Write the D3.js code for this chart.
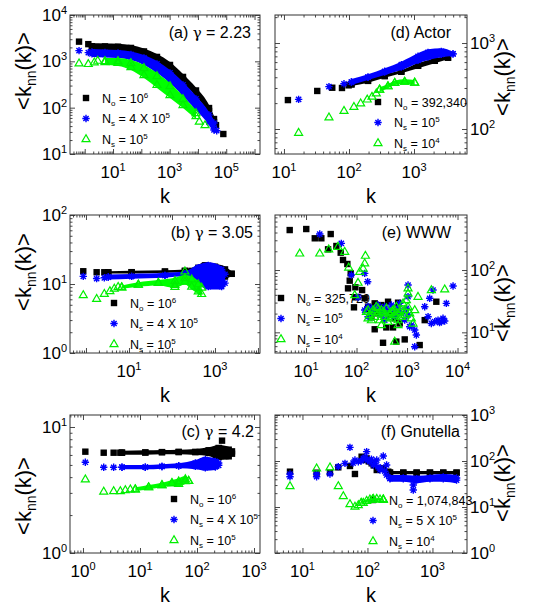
<!DOCTYPE html>
<html><head><meta charset="utf-8">
<script src="https://cdn.jsdelivr.net/npm/d3@7"></script>
<style>body{margin:0;background:#fff}svg{display:block}text{font-family:Arial,"Liberation Sans",sans-serif;fill:#000}</style>
</head><body><svg id="c" width="534" height="608"></svg>
<script>
// ---------------- DATA (k, <knn>) ----------------
// (a) gamma = 2.23
const aBlackPts=[[0.63,2660],[1.34,2350],[43500,42],[78900,27]];
const aBlackBand=[[1.8,1575,2460],[5.2,1557,2440],[15,1535,2400],[43,1445,2260],[124,1215,1900],[358,923,1445],[1030,621,970],[2970,341,535],[8550,175,273],[24700,73,114],[37000,42,66]];
const aBluePts=[[0.63,1700],[1.34,1540],[35000,38.9],[46100,31.8]];
const aBlueBand=[[1.8,1245,1850],[5.2,1215,1810],[15,1183,1763],[43,1071,1636],[124,836,1374],[358,561,1020],[1030,341,652],[2970,179,359],[8550,89,179],[24700,42,81],[37000,28.4,54]];
const aGreenPts=[[0.63,910],[1.34,880],[2.18,955],[2.88,1035],[11200,50],[17800,42]];
const aGreenBand=[[5.2,836,1183],[15,796,1183],[43,652,1071],[124,438,836],[358,267,561],[1030,162,341],[2970,98.6,179],[8550,57,89]];
// (b) gamma = 3.05
const bBlackPts=[[0.865,15.3],[1.77,14.8],[2.67,14.8]];
const bBlackBand=[[3.3,14.2,15.3],[11.5,14.2,15.5],[68.7,14.5,15.8],[200,14.8,16.2],[287,14,17],[409,11,19],[585,9.3,20.6],[1000,9.84,19.7],[1710,11.6,18.0],[2440,12.9,15.3]];
const bBluePts=[[0.865,12.9],[1.77,12.0],[2.67,12.3]];
const bBlueBand=[[3.3,11.6,13.7],[11.5,11.9,14.0],[68.7,12.3,14.5],[200,12.9,15.3],[409,9.84,19.1],[700,8.3,20.6],[1430,8.3,18.0],[1710,9.3,15.3]];
const bGreenPts=[[0.865,6.9],[1.77,6.1],[2.67,7.2],[3.6,7.9],[4.55,8.6],[5.6,9.1],[200,15.3],[117,9.1]];
const bGreenBand=[[6.8,8.5,9.5],[16.5,9.1,10.6],[48.1,9.5,11.4],[117,8.8,12.3],[200,9.84,13.5],[287,8.3,12.9],[409,7.1,11.0],[490,6.5,9.84]];
// (c) gamma = 4.2
const cBlackPts=[[1.1,6.37],[2.31,6.25],[3.45,6.25],[4.52,6.25],[275,7.79]];
const cBlackBand=[[4.83,6.03,6.49],[12.4,6.03,6.53],[24.3,6.07,6.57],[47.7,6.07,6.61],[93.5,5.99,6.69],[160,5.89,6.90],[240,5.47,7.20],[360,5.54,6.98],[411,5.81,6.77]];
const cBluePts=[[1.1,5.25],[2.31,4.79],[3.45,4.79]];
const cBlueBand=[[4.83,4.61,4.99],[12.4,4.61,4.99],[24.3,4.67,5.06],[47.7,4.70,5.15],[93.5,4.61,5.47],[140,4.50,5.81],[210,4.56,5.64],[240,4.70,5.47]];
const cGreenPts=[[1.1,3.85],[2.31,3.07],[3.45,3.10],[4.52,3.10],[5.53,3.16],[6.77,3.20]];
const cGreenBand=[[8.28,3.10,3.32],[14.2,3.20,3.47],[24.3,3.32,3.61],[36.4,3.40,3.80],[47.7,3.36,3.92],[62.4,3.53,4.08],[71.4,3.57,3.92]];
// (d) Actor
const dBlackPts=[[11.5,217],[32.5,277],[55.3,302],[78,300],[98.8,322]];
const dBlackBand=[[109,316,346],[196,346,381],[354,395,432],[638,444,485],[1153,508,581],[2080,581,664],[3334,646,706]];
const dBluePts=[[16.8,221],[49.2,311],[83.8,336]];
const dBlueBand=[[109,325,381],[196,371,432],[354,425,508],[638,485,607],[1153,581,759],[1641,634,844],[2630,681,867],[3980,706,792]];
const dGreenPts=[[16.8,90.6],[49.2,137],[83.8,163],[119,181],[151,199],[191,221],[226,238],[263,260]];
const dGreenBand=[[296,272,306],[398,297,334],[505,325,365],[719,334,378],[1024,325,371]];
// (e) WWW
const eBlackPts=[[4.75,438],[10.1,455],[14.9,323],[20.1,323],[30.8,378],[27.3,215],[39.9,243],[48.6,190],[54,145],[65.8,125],[76.7,88.5],[73.3,67.5],[67.9,50.8],[94.8,52.8],[129,47.7],[94.8,36.5],[89,25.2],[145,35.2],[169,25.8],[229,29.2],[310,27.4],[421,31],[664,29.9],[197,17.4],[229,11.2],[389,12.0],[528,12.0],[716,13.9],[614,7.1],[335,6.8],[900,7.7],[1780,6.25],[3800,31],[2240,15.7],[182,22.8],[267,20.2],[454,19],[570,16.8]];
const eBluePts=[[18.7,378],[50,268],[78.9,83.2],[166,65],[145,88.5],[107,36.5],[197,24.3],[310,22.8],[570,21.4],[1047,57.4],[1047,37.3],[968,24.3],[1217,13.1],[1420,10.9],[1530,9.06],[1420,5.88],[2240,25.8],[2810,35.2],[3270,47.7],[2610,17.8],[3530,14.8],[4770,14.8],[4110,15.7],[5160,16.8],[6010,29.2],[8150,55.4],[145,22.8],[169,25.8],[197,20.2],[229,24.3],[267,27.4],[310,19.0],[361,25.8],[421,22.8],[490,27.4],[570,17.8],[664,24.3],[773,20.2],[900,15.7],[1047,19.0],[1130,12.3],[169,17.8],[361,15.7],[716,29.2],[3030,13.9],[4400,14.3],[5570,15.2]];
const eGreenPts=[[7.5,185],[18.7,185],[28.1,215],[43,237],[58.3,197],[70,110],[116,94],[150,170],[145,128],[135,106],[107,62.7],[92,39.7],[169,22.8],[570,7.1],[1047,50.8],[1047,42.3],[1650,37.3],[1420,22.8],[3030,47.7],[5570,49],[157,21.4],[182,19.0],[212,22.8],[229,17.8],[267,20.2],[288,15.7],[335,21.4],[361,17.8],[390,24.3],[421,14.8],[454,20.2],[490,16.8],[528,22.8],[570,19.0],[615,25.8],[664,15.7],[716,21.4],[773,17.8],[834,29.2],[900,22.8],[971,33],[1047,25.8],[1130,20.2],[1217,16.8],[1315,13.9],[310,13.1],[197,15.7],[247,25.8],[169,16.8],[664,13.1],[229,21.4],[310,22.8],[421,17.8],[570,22.8],[773,22.8],[900,19.0],[361,20.2],[490,21.4],[267,24.3],[664,20.2]];
// (f) Gnutella
const fBlackPts=[[6.43,58.6],[16.5,55.7],[26.5,55.7],[35.6,72.8],[53.8,77.9],[64.2,52.2],[81.3,124],[97.2,114],[116,89],[139,63.7],[175,69.3],[209,58.6],[88,105],[105,98],[125,80]];
const fBlackBand=[[222,51.4,60.6],[356,51.4,60.6],[571,51.4,60.6],[916,51.4,60.6],[1466,51.4,60.6],[2350,51.4,60.6]];
const fBluePts=[[6.43,45.6],[6.43,52],[16.5,45.6],[16.5,52],[26.5,52.2],[35.6,75.3],[45.1,89],[53.8,198],[64.2,105],[72.3,96.6],[86.3,114],[97.2,160],[109,96.6],[123,81.9],[139,105],[156,63.7],[175,128],[197,49.6],[197,81.9],[507,23.4],[507,30],[60,90],[80,100],[92,120],[100,105],[115,110],[130,90],[145,75],[160,70],[185,60]];
const fBlueBand=[[222,35.5,49.6],[356,35.5,49.6],[571,33,48],[916,35.5,49.6],[1466,35.5,52],[2350,33,49.6]];
const fGreenPts=[[6.43,28.6],[16.5,69.3],[26.5,72.8],[35.6,28.6],[42.5,17.3],[53.8,11.6],[64.2,10.2],[72.3,11.0],[86.3,12.4],[97.2,13.7],[109,14.7],[123,15.2],[139,15.2],[156,14.7],[175,14.7]];
const fGreenBand=[[80,11.6,13.2],[120,13.6,15.4],[175,13.6,15.4]];
// legends: [subscript, base text, superscript]
const legA=[["o","10","6"],["s","4 X 10","5"],["s","10","5"]];
const legB=[["o","10","6"],["s","4 X 10","5"],["s","10","5"]];
const legC=[["o","10","6"],["s","4 X 10","5"],["s","10","5"]];
const legD=[["o","392,340",""],["s","10","5"],["s","10","4"]];
const legE=[["o","325,729",""],["s","10","5"],["s","10","4"]];
const legF=[["o","1,074,843",""],["s","5 X 10","5"],["s","10","4"]];
// titles: [prefix, greek (or ""), suffix]
const titles=[["(a) ","γ"," = 2.23"],["(b) ","γ"," = 3.05"],["(c) ","γ"," = 4.2"],["(d) Actor","",""],["(e) WWW","",""],["(f) Gnutella","",""]];
// axis tick label exponents
const xTickExp=[[1,3,5],[1,3],[0,1,2,3],[1,2,3],[1,2,3,4],[1,2,3]];
const yTickExp=[[1,2,3,4],[0,1,2],[0,1],[2,3],[1,2],[0,1,2,3]];

// ---------------- LAYOUT ----------------
const panels=[
 {x0:70,x1:260,y0:15,y1:154,xd:[0.302,1.56e6],yd:[10,1e4],side:"left",yc:71,tx:251,ty:38,lx:86,ly:98,
  s:[[aBlackPts,aBlackBand],[aBluePts,aBlueBand],[aGreenPts,aGreenBand]],leg:legA},
 {x0:70,x1:260,y0:215,y1:353,xd:[0.425,11150],yd:[1,100],side:"left",yc:272,tx:253,ty:238,lx:114,ly:303,
  s:[[bBlackPts,bBlackBand],[bBluePts,bBlueBand],[bGreenPts,bGreenBand]],leg:legB},
 {x0:70,x1:260,y0:415,y1:553,xd:[0.592,1274],yd:[1,12.45],side:"left",yc:496,tx:254,ty:437,lx:174,ly:499,
  s:[[cBlackPts,cBlackBand],[cBluePts,cBlueBand],[cGreenPts,cGreenBand]],leg:legC},
 {x0:275,x1:467,y0:15,y1:154,xd:[7.28,6530],yd:[51.2,2118],side:"right",yc:77,tx:451,ty:38,lx:378,ly:102,
  s:[[dBlackPts,dBlackBand],[dBluePts,dBlueBand],[dGreenPts,dGreenBand]],leg:legD},
 {x0:275,x1:467,y0:215,y1:353,xd:[2.43,15400],yd:[4.66,764],side:"right",yc:303,tx:451,ty:238,lx:281,ly:298,
  s:[[eBlackPts,[]],[eBluePts,[]],[eGreenPts,[]]],leg:legE},
 {x0:275,x1:467,y0:415,y1:553,xd:[3.78,3400],yd:[1,1000],side:"right",yc:483,tx:460,ty:437,lx:373,ly:500,
  s:[[fBlackPts,fBlackBand],[fBluePts,fBlueBand],[fGreenPts,fGreenBand]],leg:legF}
];
const colors=["#000000","#0000ff","#00ff00"];

const svg=d3.select("#c");
svg.append("rect").attr("width",534).attr("height",608).attr("fill","#fff");

function marker(g,type,x,y,legend){
  if(type===0){g.append("rect").attr("x",x-3.2).attr("y",y-3.2).attr("width",6.4).attr("height",6.4).attr("fill","#000");}
  else if(type===1){const r=3.7,q=r*0.7071;
    g.append("path").attr("d",`M${x-r},${y}L${x+r},${y}M${x},${y-r}L${x},${y+r}M${x-q},${y-q}L${x+q},${y+q}M${x-q},${y+q}L${x+q},${y-q}`)
     .attr("stroke","#0000ff").attr("stroke-width",1.4).attr("fill","none");}
  else {g.append("path").attr("d",`M${x},${y-4.3}L${x-4},${y+2.6}L${x+4},${y+2.6}Z`)
     .attr("stroke","#00ee00").attr("stroke-width",1.2).attr("fill",legend?"#fff":"none");}
}
function decadeTicks(d){
  const lo=Math.floor(Math.log10(d[0])),hi=Math.ceil(Math.log10(d[1]));
  const maj=[],min=[];
  for(let n=lo;n<=hi;n++)for(let m=1;m<10;m++){const v=m*Math.pow(10,n);
    if(v>=d[0]*0.999&&v<=d[1]*1.001){(m===1?maj:min).push(v);}}
  return {maj,min};
}
function supText(sel,exp){sel.append("tspan").text("10");sel.append("tspan").attr("dy",-7).attr("font-size",11).text(exp);}

panels.forEach((p,i)=>{
  const g=svg.append("g");
  const xs=d3.scaleLog().domain(p.xd).range([p.x0,p.x1]);
  const ys=d3.scaleLog().domain(p.yd).range([p.y1,p.y0]);
  const xt=decadeTicks(p.xd),yt=decadeTicks(p.yd);
  const W=p.x1-p.x0,H=p.y1-p.y0;
  const ax=(axis,tr)=>{const a=g.append("g").attr("transform",tr).call(axis);
     a.select(".domain").remove();a.selectAll("line").attr("stroke","#333").attr("stroke-width",0.9);};
  [[xt.maj,5],[xt.min,2.5]].forEach(([v,l])=>{
    ax(d3.axisBottom(xs).tickValues(v).tickSize(-l).tickFormat(""),`translate(0,${p.y1})`);
    ax(d3.axisTop(xs).tickValues(v).tickSize(-l).tickFormat(""),`translate(0,${p.y0})`);});
  [[yt.maj,5],[yt.min,2.5]].forEach(([v,l])=>{
    ax(d3.axisLeft(ys).tickValues(v).tickSize(-l).tickFormat(""),`translate(${p.x0},0)`);
    ax(d3.axisRight(ys).tickValues(v).tickSize(-l).tickFormat(""),`translate(${p.x1},0)`);});
  g.append("rect").attr("x",p.x0).attr("y",p.y0).attr("width",W).attr("height",H)
   .attr("fill","none").attr("stroke","#333").attr("stroke-width",1);
  // tick labels
  xTickExp[i].forEach(e=>{const t=g.append("text").attr("x",xs(Math.pow(10,e))).attr("y",p.y1+24)
     .attr("text-anchor","middle").attr("font-size",17);supText(t,e);});
  yTickExp[i].forEach(e=>{const t=g.append("text").attr("y",ys(Math.pow(10,e))+6).attr("font-size",17);
     if(p.side==="left")t.attr("x",p.x0-3).attr("text-anchor","end");else t.attr("x",p.x1+3).attr("text-anchor","start");
     supText(t,e);});
  // axis titles
  g.append("text").attr("x",(p.x0+p.x1)/2).attr("y",p.y1+49).attr("text-anchor","middle").attr("font-size",20).text("k");
  const bx=p.side==="left"?31:510;
  const yl=g.append("text").attr("transform",`translate(${bx},${p.yc}) rotate(-90)`).attr("text-anchor","middle").attr("font-size",22);
  yl.append("tspan").text("<k");yl.append("tspan").attr("font-size",14).attr("dy",5).text("nn");
  yl.append("tspan").attr("dy",-5).text("(k)>");
  // title
  const tt=g.append("text").attr("x",p.tx).attr("y",p.ty).attr("text-anchor","end").attr("font-size",16);
  tt.append("tspan").text(titles[i][0]);
  if(titles[i][1]){tt.append("tspan").style("font-family","'DejaVu Serif',serif").attr("font-size",15).text(titles[i][1]);
    tt.append("tspan").text(titles[i][2]);}
  // legend
  p.leg.forEach((L,j)=>{const y=p.ly+j*20.5;marker(g,j,p.lx,y,true);
    const t=g.append("text").attr("x",p.lx+16).attr("y",y+4.5).attr("font-size",12.5);
    t.append("tspan").text("N");t.append("tspan").attr("font-size",8).attr("dy",3).text(L[0]);
    t.append("tspan").attr("dy",-3).text(" = "+L[1]);
    if(L[2])t.append("tspan").attr("font-size",8).attr("dy",-5).text(L[2]);});
  // series
  p.s.forEach(([pts,band],j)=>{
    const sg=g.append("g");
    if(band.length){
      const area=d3.area().x(d=>xs(d[0])).y0(d=>ys(d[1])).y1(d=>ys(d[2])).curve(d3.curveMonotoneX);
      sg.append("path").datum(band).attr("d",area).attr("fill",j===2?"#00ff00":colors[j]);
      band.forEach(d=>{const yh=ys(d[2]),yl2=ys(d[1]);const ins=Math.min(3,(yl2-yh)/2);
        marker(sg,j,xs(d[0]),yh+ins);marker(sg,j,xs(d[0]),yl2-ins);});
    }
    pts.forEach(d=>marker(sg,j,xs(d[0]),ys(d[1])));
  });
});
</script></body></html>
